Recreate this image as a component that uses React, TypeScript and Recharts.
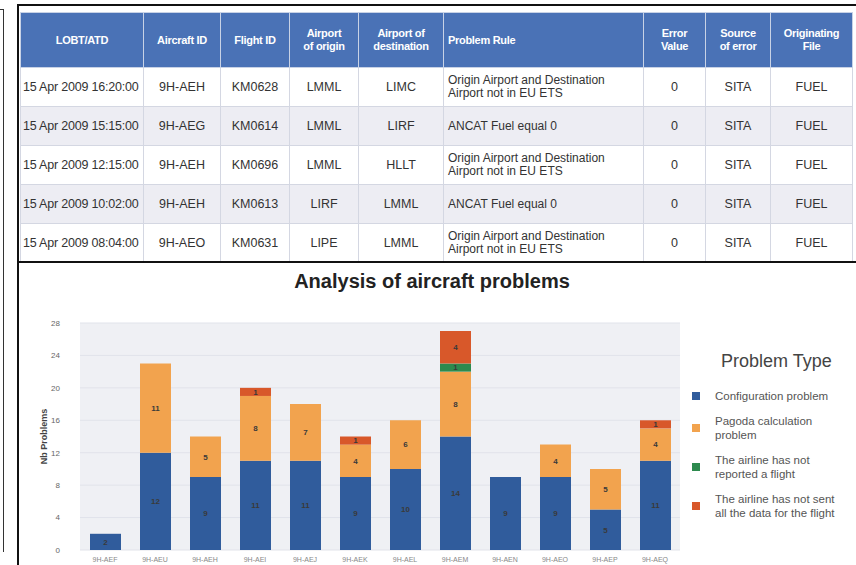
import { BarChart, Bar, XAxis, YAxis, CartesianGrid, LabelList } from 'recharts';

// table
const headers = ['LOBT/ATD', 'Aircraft ID', 'Flight ID', 'Airport\nof origin', 'Airport of\ndestination', 'Problem Rule', 'Error\nValue', 'Source\nof error', 'Originating\nFile'];
const colWidths = [123, 77, 69, 69, 85, 200, 62, 65, 82];
const lobt = ['15 Apr 2009 16:20:00', '15 Apr 2009 15:15:00', '15 Apr 2009 12:15:00', '15 Apr 2009 10:02:00', '15 Apr 2009 08:04:00'];
const aircraftIds = ['9H-AEH', '9H-AEG', '9H-AEH', '9H-AEH', '9H-AEO'];
const flightIds = ['KM0628', 'KM0614', 'KM0696', 'KM0613', 'KM0631'];
const origins = ['LMML', 'LMML', 'LMML', 'LIRF', 'LIPE'];
const destinations = ['LIMC', 'LIRF', 'HLLT', 'LMML', 'LMML'];
const rules = [
  'Origin Airport and Destination\nAirport not in EU ETS',
  'ANCAT Fuel equal 0',
  'Origin Airport and Destination\nAirport not in EU ETS',
  'ANCAT Fuel equal 0',
  'Origin Airport and Destination\nAirport not in EU ETS',
];
const errorValues = ['0', '0', '0', '0', '0'];
const sources = ['SITA', 'SITA', 'SITA', 'SITA', 'SITA'];
const files = ['FUEL', 'FUEL', 'FUEL', 'FUEL', 'FUEL'];

// chart
const aircraft = ['9H-AEF', '9H-AEU', '9H-AEH', '9H-AEI', '9H-AEJ', '9H-AEK', '9H-AEL', '9H-AEM', '9H-AEN', '9H-AEO', '9H-AEP', '9H-AEQ'];
const configuration = [2, 12, 9, 11, 11, 9, 10, 14, 9, 9, 5, 11];
const pagoda = [0, 11, 5, 8, 7, 4, 6, 8, 0, 4, 5, 4];
const notReported = [0, 0, 0, 0, 0, 0, 0, 1, 0, 0, 0, 0];
const notSent = [0, 0, 0, 1, 0, 1, 0, 4, 0, 0, 0, 1];
const yTicks = [0, 4, 8, 12, 16, 20, 24, 28];

const series = [
  { key: 'config', name: 'Configuration problem', color: '#305c9c' },
  { key: 'pagoda', name: 'Pagoda calculation problem', color: '#f2a34e' },
  { key: 'reported', name: 'The airline has not reported a flight', color: '#2d8a4e' },
  { key: 'sent', name: 'The airline has not sent all the data for the flight', color: '#d8582a' },
];

const chartData = aircraft.map((name, i) => ({
  name,
  config: configuration[i] || undefined,
  pagoda: pagoda[i] || undefined,
  reported: notReported[i] || undefined,
  sent: notSent[i] || undefined,
}));

const rows = lobt.map((d, i) => [d, aircraftIds[i], flightIds[i], origins[i], destinations[i], rules[i], errorValues[i], sources[i], files[i]]);

const font = 'Arial, "Liberation Sans", sans-serif';

function DataTable() {
  return (
    <table style={{ position: 'absolute', left: 20, top: 12, width: 832, borderCollapse: 'collapse', tableLayout: 'fixed', fontFamily: font }}>
      <colgroup>
        {colWidths.map((w, i) => <col key={i} style={{ width: w }} />)}
      </colgroup>
      <thead>
        <tr style={{ height: 55 }}>
          {headers.map((h, i) => (
            <th key={i} style={{
              background: '#4a72b6', color: '#fff', fontSize: 11, fontWeight: 'bold', whiteSpace: 'pre-line',
              textAlign: i === 5 ? 'left' : 'center', padding: i === 5 ? '0 4px' : 0, border: '1px solid #c8d2e6', lineHeight: '13px',
              letterSpacing: -0.3,
            }}>{h}</th>
          ))}
        </tr>
      </thead>
      <tbody>
        {rows.map((r, ri) => (
          <tr key={ri} style={{ height: 39, background: ri % 2 ? '#ededf3' : '#ffffff' }}>
            {r.map((c, ci) => (
              <td key={ci} style={{
                fontSize: ci === 5 ? 12 : 12.5, color: '#333', whiteSpace: ci === 0 ? 'nowrap' : 'pre-line', lineHeight: '13px',
                textAlign: ci === 0 || ci === 5 ? 'left' : 'center', padding: ci === 0 ? '0 0 0 2px' : ci === 5 ? '0 4px' : 0,
                border: '1px solid #d4d7e2', letterSpacing: ci === 0 ? -0.2 : 0, overflow: 'hidden',
              }}>{c}</td>
            ))}
          </tr>
        ))}
      </tbody>
    </table>
  );
}

function ChartLegend() {
  return (
    <div style={{ position: 'absolute', left: 692, top: 351, width: 164, fontFamily: font }}>
      <div style={{ fontSize: 18, color: '#444', marginLeft: 29, marginBottom: 17 }}>Problem Type</div>
      {series.map((s) => (
        <div key={s.key} style={{ display: 'flex', alignItems: 'center', marginBottom: 11 }}>
          <div style={{ width: 8, height: 8, background: s.color, marginRight: 15, flexShrink: 0 }} />
          <div style={{ fontSize: 11.5, color: '#555', lineHeight: '14px', width: 132 }}>{s.name}</div>
        </div>
      ))}
    </div>
  );
}

const segLabel = (v: any) => (v ? v : '');

export default function App() {
  return (
    <div style={{ position: 'absolute', left: 0, top: 0, width: 856, height: 565, background: '#fff', overflow: 'hidden' }}>
      <div style={{ position: 'absolute', left: 0, top: 9, width: 3, height: 542, borderRight: '1px solid #333', borderTop: '1px solid #333' }} />
      <div style={{ position: 'absolute', left: 17, top: 4, width: 845, height: 570, borderLeft: '2px solid #111', borderTop: '2px solid #111' }} />
      <DataTable />
      <div style={{ position: 'absolute', left: 17, top: 261, width: 845, height: 0, borderTop: '2px solid #111' }} />
      <div style={{ position: 'absolute', left: 20, top: 270, width: 824, textAlign: 'center', fontFamily: font, fontSize: 20, fontWeight: 'bold', color: '#222' }}>
        Analysis of aircraft problems
      </div>
      <div style={{ position: 'absolute', left: 20, top: 262 }}>
        <BarChart width={836} height={303} data={chartData} margin={{ top: 61, right: 176, bottom: 0, left: 15 }} barSize={31}>
          <CartesianGrid vertical={false} fill="#eff0f4" stroke="#e1e3ea" />
          <XAxis dataKey="name" height={15} tickLine={false} axisLine={false} interval={0}
            tick={{ fontSize: 7, fill: '#888', fontFamily: font }} tickMargin={1} />
          <YAxis width={45} domain={[0, 28]} ticks={yTicks} tickLine={false} axisLine={false}
            tick={{ fontSize: 8, fill: '#666', fontFamily: font }} tickMargin={14}
            label={{ value: 'Nb Problems', angle: -90, position: 'insideLeft', dx: 4, style: { fontSize: 9, fontWeight: 'bold', fill: '#444', fontFamily: font, textAnchor: 'middle' } }} />
          {series.map((s) => (
            <Bar key={s.key} dataKey={s.key} name={s.name} stackId="a" fill={s.color} isAnimationActive={false}>
              <LabelList dataKey={s.key} position="center" formatter={segLabel}
                style={{ fontSize: 8, fontWeight: 'bold', fill: '#3a3a3a', fontFamily: font }} />
            </Bar>
          ))}
        </BarChart>
      </div>
      <ChartLegend />
    </div>
  );
}
